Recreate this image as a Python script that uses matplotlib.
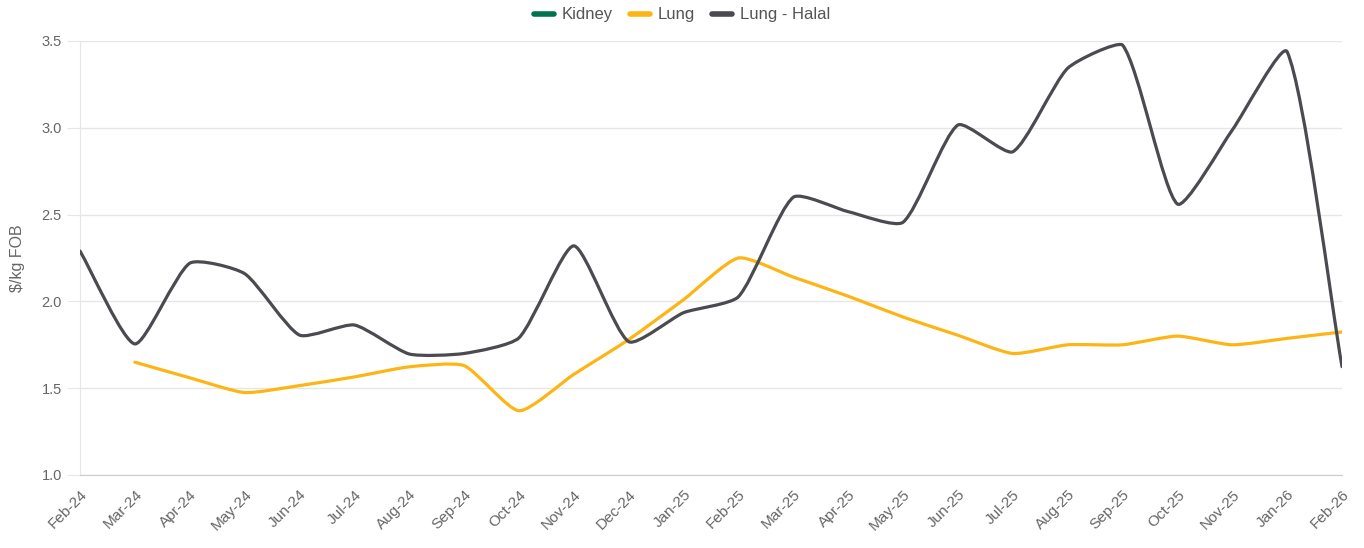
import numpy as np
import matplotlib
matplotlib.use("Agg")
import matplotlib.pyplot as plt
import matplotlib.transforms as mtransforms
from matplotlib.path import Path
from matplotlib.patches import PathPatch
from matplotlib.lines import Line2D

plt.rcParams['font.family'] = ['Liberation Sans', 'DejaVu Sans']

months = ["Feb-24", "Mar-24", "Apr-24", "May-24", "Jun-24", "Jul-24", "Aug-24", "Sep-24",
          "Oct-24", "Nov-24", "Dec-24", "Jan-25", "Feb-25", "Mar-25", "Apr-25", "May-25",
          "Jun-25", "Jul-25", "Aug-25", "Sep-25", "Oct-25", "Nov-25", "Jan-26", "Feb-26"]

kidney = [None] * len(months)
lung = [None, 1.65, 1.56, 1.475, 1.515, 1.565, 1.623, 1.63, 1.37, 1.58, 1.78, 2.01,
        2.25, 2.14, 2.03, 1.91, 1.805, 1.70, 1.75, 1.75, 1.80, 1.75, 1.787, 1.824]
lung_halal = [2.29, 1.755, 2.22, 2.16, 1.806, 1.864, 1.697, 1.70, 1.79, 2.32, 1.768, 1.935,
              2.027, 2.60, 2.517, 2.456, 3.016, 2.862, 3.343, 3.477, 2.561, 2.987, 3.438, 1.624]

C_KIDNEY = "#00734a"
C_LUNG = "#fdb515"
C_HALAL = "#4a4a50"

Y_MIN, Y_MAX = 1.0, 3.5


def spline_path(ax, xs, ys, tension=0.2):
    """Tension spline (Catmull-Rom style, distance weighted) in display space."""
    tr = ax.transData
    pts = tr.transform(np.column_stack([xs, ys]))
    x0, y0 = tr.transform((0, Y_MIN))
    x1, y1 = tr.transform((len(months) - 1, Y_MAX))
    n = len(pts)
    prevc, nextc = [], []
    for i in range(n):
        cur = pts[i]
        prv = pts[i - 1] if i > 0 else cur
        nxt = pts[i + 1] if i < n - 1 else cur
        d01 = np.hypot(*(cur - prv))
        d12 = np.hypot(*(nxt - cur))
        tot = d01 + d12
        s01 = d01 / tot if tot else 0
        s12 = d12 / tot if tot else 0
        pc = cur - tension * s01 * (nxt - prv)
        nc = cur + tension * s12 * (nxt - prv)
        pc = np.array([min(max(pc[0], x0), x1), min(max(pc[1], min(y0, y1)), max(y0, y1))])
        nc = np.array([min(max(nc[0], x0), x1), min(max(nc[1], min(y0, y1)), max(y0, y1))])
        prevc.append(pc)
        nextc.append(nc)
    verts = [pts[0]]
    codes = [Path.MOVETO]
    for i in range(1, n):
        verts += [nextc[i - 1], prevc[i], pts[i]]
        codes += [Path.CURVE4] * 3
    verts = tr.inverted().transform(np.array(verts))
    return Path(verts, codes)


fig = plt.figure(figsize=(13.64, 5.48), dpi=100)
ax = fig.add_axes([80 / 1364, 1 - 475 / 548, (1342 - 80) / 1364, (475 - 41) / 548])
ax.set_xlim(0, len(months) - 1)
ax.set_ylim(Y_MIN, Y_MAX)

x = np.arange(len(months))
for series, color in [(lung, C_LUNG), (lung_halal, C_HALAL)]:
    xs = [xi for xi, v in zip(x, series) if v is not None]
    ys = [v for v in series if v is not None]
    p = spline_path(ax, xs, ys)
    ax.add_patch(PathPatch(p, facecolor='none', edgecolor=color, lw=2.3,
                           capstyle='round', joinstyle='round', zorder=3))

ax.set_yticks([1.0, 1.5, 2.0, 2.5, 3.0, 3.5])
ax.set_yticklabels(["1.0", "1.5", "2.0", "2.5", "3.0", "3.5"])
ax.set_xticks(x)
ax.set_xticklabels(months, rotation=45, ha='right', rotation_mode='anchor')
offset = mtransforms.ScaledTranslation(-4 / 100, 0, fig.dpi_scale_trans)
for lbl in ax.get_xticklabels():
    lbl.set_transform(lbl.get_transform() + offset)

ax.grid(axis='y', color='#e6e6e6', lw=1)
ax.set_axisbelow(True)
for s in ['top', 'right']:
    ax.spines[s].set_visible(False)
ax.spines['left'].set_color('#e6e6e6')
ax.spines['bottom'].set_color('#cccccc')
ax.tick_params(axis='y', length=9.4, color='#e6e6e6', labelsize=10.5, labelcolor='#666666', pad=3.6)
ax.tick_params(axis='x', length=0, labelsize=11, labelcolor='#666666', pad=9)

ax.set_ylabel("$/kg FOB", color='#666666', fontsize=11.5)
ax.yaxis.set_label_coords((25 - 80) / 1262, 0.5)

handles = [Line2D([], [], color=C_KIDNEY, lw=4, solid_capstyle='round'),
           Line2D([], [], color=C_LUNG, lw=4, solid_capstyle='round'),
           Line2D([], [], color=C_HALAL, lw=4, solid_capstyle='round')]
fig.legend(handles, ["Kidney", "Lung", "Lung - Halal"], loc='center',
           bbox_to_anchor=(682 / 1364, 1 - 15 / 548), ncol=3, frameon=False,
           fontsize=12, handlelength=1.2, handletextpad=0.5, columnspacing=1.0,
           labelcolor='#555555')

fig.savefig("out.png", dpi=100)
